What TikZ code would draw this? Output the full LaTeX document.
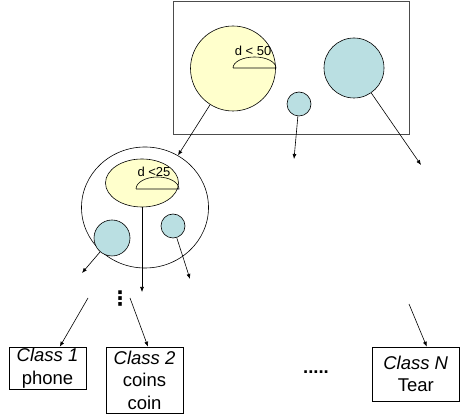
\documentclass[tikz,border=0pt]{standalone}
\usepackage{fontspec}
\setmainfont{Liberation Sans}
\newfontfamily\symfont{DejaVu Sans}
\usetikzlibrary{shapes.geometric,arrows.meta}
\definecolor{regionyel}{RGB}{255,255,204}
\definecolor{blobcyan}{RGB}{186,223,226}
\tikzset{
  blob/.style={circle,draw,fill=blobcyan,inner sep=0pt},
  region/.style={draw,fill=regionyel,inner sep=0pt},
  classbox/.style={draw,align=center,inner sep=0pt,font=\fontsize{18.5}{22.5}\selectfont},
  arr/.style={-{Latex[length=5pt,width=4pt]}},
}
\begin{document}
\begin{tikzpicture}[x=1pt,y=1pt,line width=0.6pt]
  \useasboundingbox (0,0) rectangle (460,417);

  % Erste Ebene
  \draw[black!70,line width=1pt] (173,282) rectangle (409,415);
  \node[region,circle,minimum size=85pt] (cl50) at (233,348.5) {};
  \draw (233,349) -- (276,349) arc[start angle=0,end angle=180,x radius=21.5,y radius=11];
  \node[font=\fontsize{13}{13}\selectfont] (t50) at (253,366) {d < 50};
  \node[blob,minimum size=24pt] (c1) at (299,313) {};
  \node[blob,minimum size=60pt] (c2) at (354,349) {};

  % Zweite Ebene
  \node[ellipse,draw,minimum width=127pt,minimum height=121pt,inner sep=0pt] (lvl2) at (145,209.5) {};
  \node[region,ellipse,minimum width=73pt,minimum height=48pt] (cl25) at (142,234) {};
  \draw (136,228) -- (179,228) arc[start angle=0,end angle=180,x radius=21.5,y radius=12];
  \node[font=\fontsize{13}{13}\selectfont] (t25) at (154,245) {d <25};
  \node[blob,minimum size=36pt] (c3) at (112,179) {};
  \node[blob,minimum size=24pt] (c4) at (173,191) {};

  % Pfeile
  \coordinate (e1) at (294,258);
  \coordinate (e2) at (421,252);
  \draw[arr] (cl50) -- (lvl2);
  \draw[arr] (c1) -- (e1);
  \draw[arr] (c2) -- (e2);

  \coordinate (e3) at (82,144);
  \coordinate (e4) at (142,125);
  \coordinate (e5) at (190,138);
  \draw[arr] (c3) -- (e3);
  \draw[arr] (cl25) -- (e4);
  \draw[arr] (c4) -- (e5);

  % Klassen
  \node[classbox,minimum width=77pt,minimum height=42pt] (class1) at (47.5,49) {\textit{Class 1}\\phone};
  \node[classbox,minimum width=77pt,minimum height=66pt] (class2) at (144.5,37) {\textit{Class 2}\\coins\\coin};
  \node[classbox,minimum width=87pt,minimum height=54pt] (classN) at (415.75,43) {\textit{Class N}\\Tear};

  \node[font=\symfont\bfseries\fontsize{20}{20}\selectfont,inner sep=0pt] (vdots) at (120,118.5) {⋮};
  \node[font=\bfseries\fontsize{18.5}{22}\selectfont,inner sep=0pt] (hdots) at (316,45) {.....};

  \coordinate (s1) at (88,119);
  \coordinate (s2) at (130,119);
  \coordinate (s3) at (409,113);
  \draw[arr] (s1) -- (class1);
  \draw[arr] (s2) -- ([xshift=3.5pt]class2.north);
  \draw[arr] (s3) -- ([xshift=11pt]classN.north);
\end{tikzpicture}
\end{document}
